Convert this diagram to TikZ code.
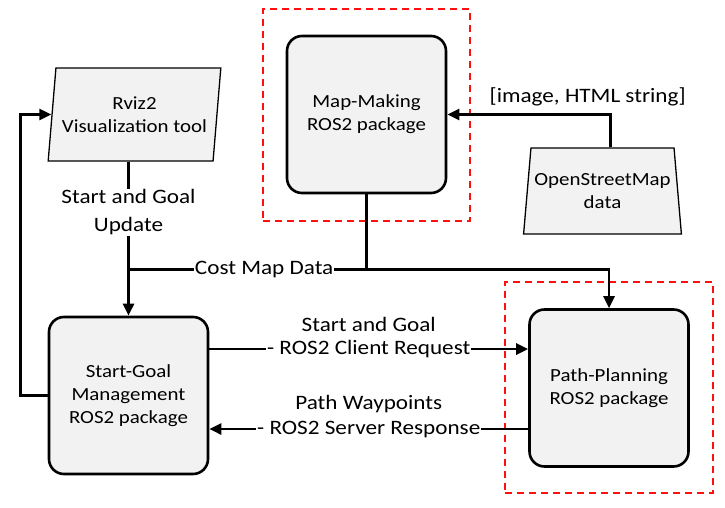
\documentclass[tikz,border=0pt]{standalone}
\usepackage{fontspec}
\setmainfont{Carlito}[FakeStretch=1.13]
\usepackage{tikz}
\usetikzlibrary{arrows.meta,calc,fit}
\usetikzlibrary{shapes.geometric}
\usepackage{xcolor}
\definecolor{boxgray}{HTML}{F2F2F2}
\definecolor{grpred}{HTML}{FF1010}
\newcommand{\boxfont}{\fontsize{18.5}{23}\selectfont}
\newcommand{\lblfont}{\fontsize{20.5}{28}\selectfont}
\tikzstyle{pkg}=[draw, line width=2.6pt, rounded corners=15pt, fill=boxgray, minimum width=159pt, minimum height=157pt, align=center, font=\boxfont]
\tikzstyle{io}=[draw, line width=1.3pt, fill=boxgray, trapezium, trapezium stretches=true, align=center, font=\boxfont]
\tikzstyle{flow}=[line width=2.6pt, -{Triangle[length=12pt,width=11pt]}]
\tikzstyle{wire}=[line width=2.6pt]
\tikzstyle{lbl}=[fill=white, inner sep=1pt, align=center, font=\lblfont]
\tikzstyle{group}=[draw=grpred, line width=1.2pt, dash pattern=on 7pt off 5pt, inner xsep=24pt, inner ysep=27pt]

\begin{document}
\begin{tikzpicture}[x=1pt, y=-1pt]
 \useasboundingbox (0,0) rectangle (725,508);
%
 \node[group, minimum width=207pt, minimum height=212pt] (mmgroup) at (366.5,115) {};
 \node[group, minimum width=208pt, minimum height=211pt] (ppgroup) at (609,387.5) {};
%
 \node[pkg] (mm) at (366.5,114.5) {Map-Making\\ROS2 package};
 \node[pkg] (sg) at (128.5,395.5) {Start-Goal\\Management\\ROS2 package};
 \node[pkg] (pp) at (609,388) {Path-Planning\\ROS2 package};
 \node[io, trapezium left angle=80, trapezium right angle=100, minimum width=173pt, minimum height=93pt] (rviz) at (134.5,114.5) {Rviz2\\Visualization tool};
 \node[io, trapezium left angle=80, trapezium right angle=80, minimum width=157pt, minimum height=86pt] (osm) at (602.5,191) {OpenStreetMap\\data};
%
 \draw[flow] (rviz.south -| sg.north) -- node[lbl, pos=0.33] {Start and Goal\\Update} (sg.north);
 \draw[wire] (mm.south) -- ++(0,75) coordinate (split);
 \draw[flow] (split) -| (pp.north);
 \draw[wire] (split) -- node[lbl, pos=0.43] {Cost Map Data} (split -| sg.north);
 \draw[flow] ($(osm.north)+(8,0)$) |- node[font=\lblfont, pos=0.57, above=4pt] {[image, HTML string]} (mm.east);
 \draw[flow] ($(sg.east)+(0,-46.5)$) coordinate (req) -- node[lbl, label={[font=\lblfont, inner sep=0pt, label distance=5pt]above:Start and Goal}] {- ROS2 Client Request} (req -| pp.west);
 \draw[flow] ($(pp.west)+(0,41)$) coordinate (resp) -- node[lbl, label={[font=\lblfont, inner sep=0pt, label distance=4pt]above:Path Waypoints}] {- ROS2 Server Response} (resp -| sg.east);
 \draw[flow] (sg.west) -- ++(-27,0) |- (rviz.west);
\end{tikzpicture}
\end{document}
